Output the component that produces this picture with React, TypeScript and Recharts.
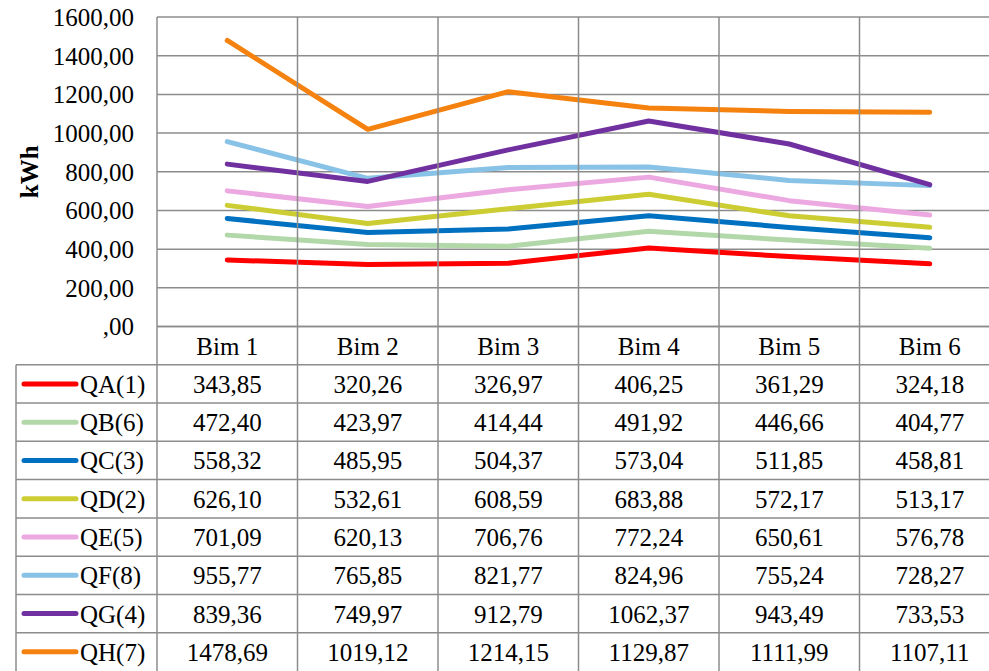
import { CartesianGrid, Line, LineChart, XAxis, YAxis } from "recharts";

const categories = ["Bim 1", "Bim 2", "Bim 3", "Bim 4", "Bim 5", "Bim 6"];

const seriesNames = ["QA(1)", "QB(6)", "QC(3)", "QD(2)", "QE(5)", "QF(8)", "QG(4)", "QH(7)"];
const seriesColors = ["#FF0000", "#B2D8AA", "#0070C0", "#CCCC33", "#ECA8E0", "#88C2E6", "#7030A0", "#F5820F"];

const qa = [343.85, 320.26, 326.97, 406.25, 361.29, 324.18];
const qb = [472.4, 423.97, 414.44, 491.92, 446.66, 404.77];
const qc = [558.32, 485.95, 504.37, 573.04, 511.85, 458.81];
const qd = [626.1, 532.61, 608.59, 683.88, 572.17, 513.17];
const qe = [701.09, 620.13, 706.76, 772.24, 650.61, 576.78];
const qf = [955.77, 765.85, 821.77, 824.96, 755.24, 728.27];
const qg = [839.36, 749.97, 912.79, 1062.37, 943.49, 733.53];
const qh = [1478.69, 1019.12, 1214.15, 1129.87, 1111.99, 1107.11];

const seriesValues = [qa, qb, qc, qd, qe, qf, qg, qh];
const yTicks = [0, 200, 400, 600, 800, 1000, 1200, 1400, 1600];

const data = categories.map((name, i) => {
  const row: Record<string, string | number> = { name };
  seriesNames.forEach((s, k) => {
    row[s] = seriesValues[k][i];
  });
  return row;
});

// layout
const W = 1000;
const H = 671;
const TOP = 17;
const LEFT = 157;
const PLOT_BOTTOM = 326.5;
const ROW_H = (H - PLOT_BOTTOM) / 9;
const COL_W = (W - LEFT) / categories.length;
const GRID = "#8C8C8C";
const FONT = "'Liberation Serif', Tinos, 'Times New Roman', serif";
const FS = 25;

const fmt = (v: number) => (v === 0 ? ",00" : v.toFixed(2).replace(".", ","));

function TableTick(props: any) {
  const { x, index } = props;
  const label = categories[index];
  const left = x - COL_W / 2;
  const right = x + COL_W / 2;
  return (
    <g>
      {/* column borders */}
      <line x1={right} x2={right} y1={TOP} y2={H} stroke={GRID} strokeWidth={1.5} />
      {index === 0 && (
        <line x1={left} x2={left} y1={TOP} y2={H} stroke={GRID} strokeWidth={1.5} />
      )}
      {/* header */}
      <text x={x} y={PLOT_BOTTOM + ROW_H / 2 + 9} textAnchor="middle" fontSize={FS} fontFamily={FONT} fill="#000">
        {label}
      </text>
      {seriesNames.map((s, k) => {
        const top = PLOT_BOTTOM + ROW_H * (k + 1);
        return (
          <g key={s}>
            <line x1={left} x2={right} y1={top} y2={top} stroke={GRID} strokeWidth={1.5} />
            <text x={x} y={top + ROW_H / 2 + 9} textAnchor="middle" fontSize={FS} fontFamily={FONT} fill="#000">
              {fmt(seriesValues[k][index])}
            </text>
          </g>
        );
      })}
      {index === 0 && (
        <g>
          <line x1={16} x2={16} y1={PLOT_BOTTOM + ROW_H} y2={H} stroke={GRID} strokeWidth={1.5} />
          {seriesNames.map((s, k) => {
            const top = PLOT_BOTTOM + ROW_H * (k + 1);
            return (
              <g key={s}>
                <line x1={16} x2={LEFT} y1={top} y2={top} stroke={GRID} strokeWidth={1.5} />
                <line
                  x1={24}
                  x2={76}
                  y1={top + ROW_H / 2}
                  y2={top + ROW_H / 2}
                  stroke={seriesColors[k]}
                  strokeWidth={5}
                  strokeLinecap="round"
                />
                <text x={80} y={top + ROW_H / 2 + 9} fontSize={FS} fontFamily={FONT} fill="#000">
                  {s}
                </text>
              </g>
            );
          })}
        </g>
      )}
    </g>
  );
}

export default function App() {
  return (
    <div
      style={{
        position: "absolute",
        left: 0,
        top: 0,
        width: 989,
        height: 671,
        overflow: "hidden",
        background: "#fff",
        fontFamily: FONT,
      }}
    >
      <LineChart width={W} height={H} data={data} margin={{ top: TOP, right: 0, bottom: 0, left: 0 }}>
        <CartesianGrid vertical={false} stroke={GRID} strokeWidth={1.5} />
        <XAxis
          dataKey="name"
          scale="band"
          height={H - PLOT_BOTTOM}
          axisLine={{ stroke: GRID, strokeWidth: 1.5 }}
          tickLine={false}
          interval={0}
          tick={<TableTick />}
        />
        <YAxis
          width={LEFT}
          domain={[0, 1600]}
          ticks={yTicks}
          interval={0}
          axisLine={false}
          tickLine={false}
          tickSize={0}
          tickMargin={23}
          tickFormatter={fmt}
          tick={{ fill: "#000", fontSize: FS, fontFamily: FONT }}
          label={{
            value: "kWh",
            angle: -90,
            position: "insideLeft",
            offset: 29,
            style: { fontSize: 25, fontWeight: "bold", fontFamily: FONT, fill: "#000", textAnchor: "middle" },
          }}
        />
        {seriesNames.map((s, k) => (
          <Line
            key={s}
            dataKey={s}
            stroke={seriesColors[k]}
            strokeWidth={5}
            dot={false}
            activeDot={false}
            strokeLinecap="round"
            strokeLinejoin="round"
            isAnimationActive={false}
          />
        ))}
      </LineChart>
    </div>
  );
}
